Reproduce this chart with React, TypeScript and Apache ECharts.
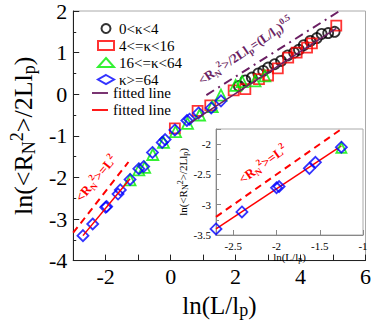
import React, { useEffect, useRef } from 'react';
import * as echarts from 'echarts';

const FONT = 'Liberation Serif';

// ---- data ----
const blackX = [2.1, 2.3, 2.5, 2.7, 2.85, 3.0, 3.2, 3.4, 3.6, 3.8, 3.95, 4.1, 4.3, 4.5, 4.65, 4.85, 5.05];
const blackY = [0.2, 0.33, 0.4, 0.5, 0.56, 0.64, 0.72, 0.8, 0.93, 1.0, 1.07, 1.18, 1.28, 1.35, 1.45, 1.47, 1.5];

const redX = [0.13, 0.83, 1.22, 1.94, 2.3, 2.72, 3.0, 3.3, 3.62, 3.88, 4.2, 4.35, 5.1];
const redY = [-0.82, -0.4, -0.27, 0.09, 0.12, 0.36, 0.45, 0.62, 0.88, 1.0, 1.12, 1.22, 1.65];

const greenX = [-1.25, -0.98, -0.8, -0.55, -0.22, 0.15, 0.52, 0.89, 1.28, 1.55, 2.0, 2.2, 2.6, 2.9];
const greenY = [-2.06, -1.82, -1.76, -1.45, -1.16, -0.9, -0.7, -0.5, -0.3, -0.02, 0.21, 0.3, 0.32, 0.44];

const blueX = [-2.7, -2.4, -2.0, -1.97, -1.62, -1.55, -1.25, -0.98, -0.83, -0.56, -0.26, -0.17, 0.13, 0.5, 0.58, 0.86, 1.25, 1.55];
const blueY = [-3.4, -3.12, -2.72, -2.7, -2.4, -2.3, -2.05, -1.79, -1.74, -1.4, -1.16, -1.09, -0.86, -0.63, -0.6, -0.45, -0.33, -0.16];

// fitted / reference lines (main plot)
const purpleFitX = [0.6, 5.1];
const purpleFitY = [-0.69, 1.58];
const redFitX = [-2.7, -1.25];
const redFitY = [-3.4, -2.03];
const halfPowerX = [1.1, 5.2];
const halfPowerY = [-0.02, 2.0];
const squareLawX = [-3.0, -1.3];
const squareLawY = [-3.33, -1.63];

// inset lines
const insetFitX = [-2.7, -1.25];
const insetFitY = [-3.4, -2.03];
const insetSquareX = [-2.7, -1.25];
const insetSquareY = [-3.2, -1.75];

// axis ranges and ticks
const mainXRange = [-3, 6];
const mainYRange = [-4, 2];
const insetXRange = [-2.7, -1];
const insetYRange = [-3.5, -1.75];
const insetXTicks = [-2.5, -2, -1.5, -1];

const legendNames = ['0<κ<4', '4<=κ<16', '16<=κ<64', 'κ>=64'];
const fitLegendNames = ['fitted line', 'fitted line'];

// annotation anchors (data coordinates)
const halfPowerLabelAt = [2.3, 1.05];
const squareLawLabelAt = [-2.3, -2.02];
const insetSquareLabelAt = [-2.16, -2.33];

const zip = (xs: number[], ys: number[]) => xs.map((x, i) => [x, ys[i]]);
const inRange = (pts: number[][], r: number[]) => pts.filter((p) => p[0] >= r[0] && p[0] <= r[1]);

function richSet(base: number, small: number, lh: number, color: string, weight = 'normal') {
  const common = { fontFamily: FONT, color, fill: color, fontWeight: weight };
  return {
    b: { ...common, fontSize: base, lineHeight: lh, verticalAlign: 'middle' },
    sub: { ...common, fontSize: small, lineHeight: small, verticalAlign: 'bottom' },
    sup: { ...common, fontSize: small, lineHeight: small, verticalAlign: 'top' },
  };
}

const PURPLE = '#6b1f63';
const LINE_COLORS = [PURPLE, '#ff0000'];

export default function App() {
  const ref = useRef<HTMLDivElement>(null);
  useEffect(() => {
    if (!ref.current) return;
    const chart = echarts.init(ref.current, null, { renderer: 'svg' });
    const scatterStyle = (c: string) => ({ color: 'rgba(0,0,0,0)', borderColor: c, borderWidth: 1.8 });
    const legendText = { fontFamily: FONT, fontSize: 15, color: '#000' };
    const option: any = {
      animation: false,
      backgroundColor: '#fff',
      grid: [
        { left: 69, top: 10, right: 6, bottom: 56, show: true, borderColor: '#aaa', borderWidth: 1 },
        { left: 216, top: 129, right: 11, bottom: 89, show: true, borderColor: '#aaa', borderWidth: 1, backgroundColor: '#fff', z: 5 },
      ],
      legend: {
        data: legendNames,
        orient: 'vertical', left: 92, top: 16,
        itemWidth: 16, itemHeight: 9, itemGap: 2,
        textStyle: legendText,
      },
      xAxis: [
        {
          gridIndex: 0, type: 'value', min: mainXRange[0], max: mainXRange[1], interval: 1,
          axisLine: { onZero: false, lineStyle: { color: '#222', width: 1 } },
          axisTick: { inside: true, length: 6, lineStyle: { color: '#222' } },
          axisLabel: {
            formatter: (v: number) => (Math.abs(v % 2) < 1e-9 ? String(v) : ''),
            fontFamily: FONT, fontSize: 22, color: '#000', margin: 5,
          },
          splitLine: { show: false },
          name: '{b|ln(L/l}{sub|p}{b|)}',
          nameLocation: 'middle', nameGap: 18,
          nameTextStyle: { rich: richSet(25, 18, 28, '#000') },
        },
        {
          gridIndex: 1, type: 'value', min: insetXRange[0], max: insetXRange[1],
          axisLine: { onZero: false, lineStyle: { color: '#888', width: 1 } },
          axisTick: { inside: true, length: 5, customValues: insetXTicks, lineStyle: { color: '#888' } },
          axisLabel: { customValues: insetXTicks, fontFamily: FONT, fontSize: 11, color: '#000', margin: 5 },
          splitLine: { show: false },
          name: '{b|ln(L/l}{sub|p}{b|)}',
          nameLocation: 'middle', nameGap: 14,
          nameTextStyle: { rich: richSet(11, 8, 13, '#000') },
          z: 6,
        },
      ],
      yAxis: [
        {
          gridIndex: 0, type: 'value', min: mainYRange[0], max: mainYRange[1], interval: 1,
          axisLine: { onZero: false, lineStyle: { color: '#222', width: 1 } },
          axisTick: { inside: true, length: 6, lineStyle: { color: '#222' } },
          minorTick: { show: true, splitNumber: 2, length: 3, lineStyle: { color: '#222' } },
          axisLabel: { fontFamily: FONT, fontSize: 22, color: '#000', margin: 6 },
          splitLine: { show: false },
          name: '{b|ln(<R}{sub|N}{sup|2}{b|>/2Ll}{sub|p}{b|)}',
          nameLocation: 'middle', nameGap: 34,
          nameTextStyle: { rich: richSet(26, 18, 30, '#000') },
        },
        {
          gridIndex: 1, type: 'value', min: insetYRange[0], max: insetYRange[1], interval: 0.5,
          axisLine: { onZero: false, lineStyle: { color: '#888', width: 1 } },
          axisTick: { inside: true, length: 5, lineStyle: { color: '#888' } },
          minorTick: { show: true, splitNumber: 2, length: 3, lineStyle: { color: '#888' } },
          axisLabel: { fontFamily: FONT, fontSize: 11, color: '#000', margin: 5, showMaxLabel: false },
          splitLine: { show: false },
          name: '{b|ln(<R}{sub|N}{sup|2}{b|>/2Ll}{sub|p}{b|)}',
          nameLocation: 'middle', nameGap: 24,
          nameTextStyle: { rich: richSet(11, 8, 13, '#000') },
          z: 6,
        },
      ],
      series: [
        { name: legendNames[0], type: 'scatter', xAxisIndex: 0, yAxisIndex: 0, symbol: 'circle', symbolSize: 10, itemStyle: scatterStyle('#000'), data: zip(blackX, blackY) },
        { name: legendNames[1], type: 'scatter', xAxisIndex: 0, yAxisIndex: 0, symbol: 'rect', symbolSize: 10, itemStyle: scatterStyle('#ff0000'), data: zip(redX, redY) },
        { name: legendNames[2], type: 'scatter', xAxisIndex: 0, yAxisIndex: 0, symbol: 'triangle', symbolSize: 11, itemStyle: scatterStyle('#00ee00'), data: zip(greenX, greenY) },
        { name: legendNames[3], type: 'scatter', xAxisIndex: 0, yAxisIndex: 0, symbol: 'diamond', symbolSize: 11, itemStyle: scatterStyle('#0000ff'), data: zip(blueX, blueY) },
        { name: 'purpleFit', type: 'line', xAxisIndex: 0, yAxisIndex: 0, symbol: 'none', lineStyle: { color: PURPLE, width: 1.5, type: 'solid' }, data: zip(purpleFitX, purpleFitY) },
        { name: 'redFit', type: 'line', xAxisIndex: 0, yAxisIndex: 0, symbol: 'none', lineStyle: { color: '#ff0000', width: 1.5, type: 'solid' }, data: zip(redFitX, redFitY) },
        { name: 'halfPower', type: 'line', xAxisIndex: 0, yAxisIndex: 0, symbol: 'none', lineStyle: { color: PURPLE, width: 2, type: [9, 5, 2, 5] }, data: zip(halfPowerX, halfPowerY) },
        { name: 'squareLaw', type: 'line', xAxisIndex: 0, yAxisIndex: 0, symbol: 'none', lineStyle: { color: '#ff0000', width: 2, type: [7, 5] }, data: zip(squareLawX, squareLawY) },
        { name: 'insetGreen', type: 'scatter', xAxisIndex: 1, yAxisIndex: 1, symbol: 'triangle', symbolSize: 10, itemStyle: scatterStyle('#00ee00'), data: inRange(zip(greenX, greenY), insetXRange), z: 7 },
        { name: 'insetBlue', type: 'scatter', xAxisIndex: 1, yAxisIndex: 1, symbol: 'diamond', symbolSize: 11, itemStyle: scatterStyle('#0000ff'), data: inRange(zip(blueX, blueY), insetXRange), z: 7 },
        { name: 'insetFit', type: 'line', xAxisIndex: 1, yAxisIndex: 1, symbol: 'none', lineStyle: { color: '#ff0000', width: 1.5 }, data: zip(insetFitX, insetFitY), z: 7 },
        { name: 'insetSquare', type: 'line', xAxisIndex: 1, yAxisIndex: 1, symbol: 'none', lineStyle: { color: '#ff0000', width: 2, type: [7, 5] }, data: zip(insetSquareX, insetSquareY), z: 7 },
      ],
    };
    chart.setOption(option);

    const p1 = chart.convertToPixel({ gridIndex: 0 }, halfPowerLabelAt) as number[];
    const p2 = chart.convertToPixel({ gridIndex: 0 }, squareLawLabelAt) as number[];
    const p3 = chart.convertToPixel({ gridIndex: 1 }, insetSquareLabelAt) as number[];
    const deg = Math.PI / 180;
    const fitLegend = fitLegendNames.map((n, i) => {
      const cy = 93 + i * 17;
      return {
        type: 'group',
        children: [
          { type: 'line', shape: { x1: 92, y1: cy, x2: 108, y2: cy }, style: { stroke: LINE_COLORS[i], lineWidth: 1.8 } },
          { type: 'text', x: 113, y: cy, style: { text: n, fill: '#000', font: `15px "${FONT}"`, verticalAlign: 'middle', align: 'left' } },
        ],
      };
    });
    chart.setOption({
      graphic: [
        ...fitLegend,
        {
          type: 'text', x: p1[0], y: p1[1], rotation: 34 * deg, z: 20,
          style: {
            text: '{b|<R}{sub|N}{sup|2}{b|>/2Ll}{sub|p}{b|=(L/l}{sub|p}{b|)}{sup|0.5}',
            rich: richSet(13, 9, 17, PURPLE, 'bold'), align: 'center', verticalAlign: 'middle',
          },
        },
        {
          type: 'text', x: p2[0], y: p2[1], rotation: 50 * deg, z: 20,
          style: {
            text: '{b|<R}{sub|N}{sup|2}{b|>=L}{sup|2}',
            rich: richSet(13, 9, 17, '#ff0000', 'bold'), align: 'center', verticalAlign: 'middle',
          },
        },
        {
          type: 'text', x: p3[0], y: p3[1], rotation: 36 * deg, z: 20,
          style: {
            text: '{b|<R}{sub|N}{sup|2}{b|>=L}{sup|2}',
            rich: richSet(13, 9, 17, '#ff0000', 'bold'), align: 'center', verticalAlign: 'middle',
          },
        },
      ],
    });
    return () => chart.dispose();
  }, []);
  return <div ref={ref} style={{ position: 'fixed', left: 0, top: 0, width: 374, height: 324 }} />;
}
